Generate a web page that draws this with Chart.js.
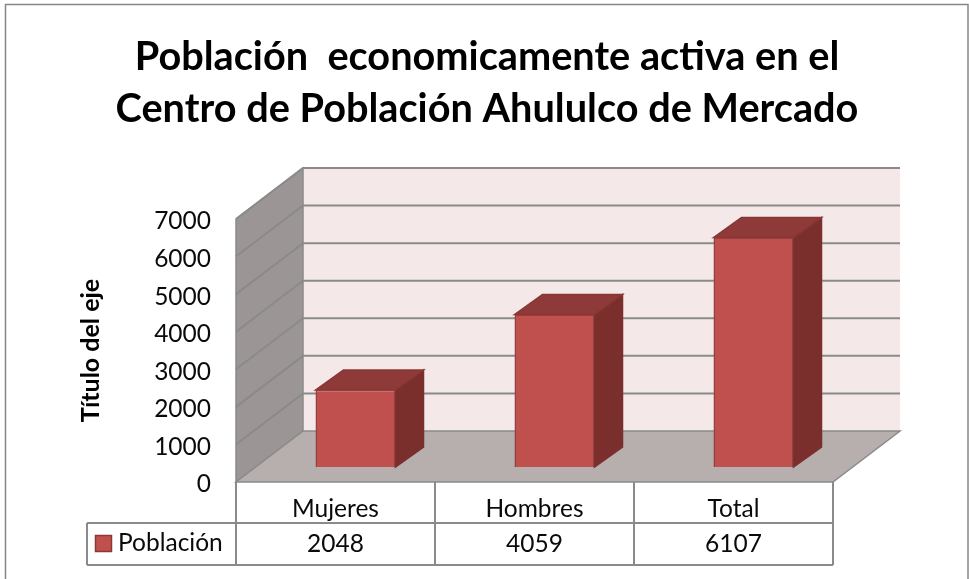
<!DOCTYPE html>
<html><head><meta charset="utf-8">
<style>html,body{margin:0;padding:0;background:#fff}canvas{display:block}</style>
<script src="https://cdn.jsdelivr.net/npm/chart.js@4"></script>
</head><body><canvas id="c" width="969" height="579"></canvas>
<script>
const categories = ["Mujeres","Hombres","Total"];
const poblacion = [2048,4059,6107];
const seriesName = "Población";
const titleLines = ["Población  economicamente activa en el","Centro de Población Ahululco de Mercado"];
const yTitle = "Título del eje";
const FONT = "Lato, Carlito, sans-serif";
const LINE = "#8a8a8a";
const wallD = {x:67,y:-51}, barShift = {x:20,y:-15}, barD = {x:28,y:-20};

function poly(ctx, pts, fill, stroke){
  ctx.beginPath(); pts.forEach((p,i)=> i?ctx.lineTo(p[0],p[1]):ctx.moveTo(p[0],p[1])); ctx.closePath();
  if(fill){ctx.fillStyle=fill;ctx.fill();}
  if(stroke){ctx.strokeStyle=stroke;ctx.lineWidth=1.5;ctx.stroke();}
}
const scene = {
  id:"scene",
  beforeDatasetsDraw(chart){
    const {ctx, scales:{x,y}} = chart;
    const l=x.left, r=x.right, b=y.getPixelForValue(0), t=y.getPixelForValue(7000);
    ctx.save();
    poly(ctx,[[l+wallD.x,t+wallD.y],[r+wallD.x,t+wallD.y],[r+wallD.x,b+wallD.y],[l+wallD.x,b+wallD.y]],"#f4e8e8");
    poly(ctx,[[l,t],[l+wallD.x,t+wallD.y],[l+wallD.x,b+wallD.y],[l,b]],"#9b9695",LINE);
    poly(ctx,[[l,b],[l+wallD.x,b+wallD.y],[r+wallD.x,b+wallD.y],[r,b]],"#b7aeae",LINE);
    ctx.strokeStyle=LINE; ctx.lineWidth=2;
    y.ticks.forEach(tk=>{
      if(tk.value===0) return;
      const py=y.getPixelForValue(tk.value);
      ctx.beginPath(); ctx.moveTo(l,py); ctx.lineTo(l+wallD.x,py+wallD.y); ctx.lineTo(r+wallD.x,py+wallD.y); ctx.stroke();
    });
    ctx.restore();
  },
  beforeDatasetDraw(chart,args){
    const ctx=chart.ctx, meta=args.meta;
    ctx.save(); ctx.translate(barShift.x,barShift.y);
    meta.data.forEach(el=>{
      const p=el.getProps(["x","y","base","width"],true);
      const L=p.x-p.width/2,R=p.x+p.width/2,T=p.y,B=p.base;
      poly(ctx,[[R,T],[R+barD.x,T+barD.y],[R+barD.x,B+barD.y],[R,B]],"#7b2f2d","#7b2f2d");
      poly(ctx,[[L,T],[L+barD.x,T+barD.y],[R+barD.x,T+barD.y],[R,T]],"#8e3a38","#8a3634");
    });
  },
  afterDatasetDraw(chart){ chart.ctx.restore(); },
  afterDraw(chart){
    const {ctx, scales:{x,y}} = chart;
    const l=x.left, r=x.right, b=y.getPixelForValue(0);
    const r1=523, r2=565, legL=87;
    ctx.save();
    ctx.strokeStyle=LINE; ctx.lineWidth=2;
    ctx.beginPath();
    ctx.moveTo(legL,r1); ctx.lineTo(r,r1);
    ctx.moveTo(legL,r2); ctx.lineTo(r,r2);
    ctx.moveTo(legL,r1); ctx.lineTo(legL,r2);
    ctx.moveTo(l,b); ctx.lineTo(l,r2);
    const w=(r-l)/categories.length;
    categories.forEach((c,i)=>{ctx.moveTo(l+w*(i+1),b);ctx.lineTo(l+w*(i+1),r2);});
    ctx.stroke();
    ctx.fillStyle="#0a0a0a"; ctx.font="24.5px "+FONT; ctx.textAlign="center"; ctx.textBaseline="middle";
    poblacion.forEach((v,i)=>ctx.fillText(String(v),x.getPixelForTick(i),544));
    ctx.textAlign="left"; ctx.fillText(seriesName,118,543);
    ctx.fillStyle="#c0504d"; ctx.strokeStyle="#8c3836"; ctx.lineWidth=1.5;
    ctx.fillRect(95.5,535.5,16,16); ctx.strokeRect(95.5,535.5,16,16);
    ctx.strokeStyle="#868686"; ctx.lineWidth=1.5;
    ctx.strokeRect(5.5,4.5,962.5,700);
    ctx.restore();
  }
};
new Chart(document.getElementById("c"),{
  type:"bar",
  data:{labels:categories,datasets:[{label:seriesName,data:poblacion,backgroundColor:"#c0504d",borderColor:"#943f3c",borderWidth:1.5,barPercentage:0.402,categoryPercentage:1,clip:false}]},
  plugins:[scene],
  options:{
    responsive:false,animation:false,
    layout:{padding:{left:5,right:0,top:0,bottom:0}},
    plugins:{
      legend:{display:false},tooltip:{enabled:false},
      title:{display:true,text:titleLines,color:"#000",align:"center",
        font:{family:FONT,size:39.7,weight:"bold",lineHeight:52/39.7},
        padding:{top:31,bottom:84}}
    },
    scales:{
      x:{grid:{display:false,drawTicks:false},border:{display:false},
        ticks:{color:"#0a0a0a",font:{family:FONT,size:24.5},padding:12,maxRotation:0},
        afterFit(s){s.height=97;}},
      y:{min:0,max:7000,grid:{display:false,drawTicks:false},border:{display:false},
        ticks:{stepSize:1000,color:"#0a0a0a",font:{family:FONT,size:24.5},padding:25,callback:v=>String(v)},
        title:{display:true,text:yTitle,color:"#000",font:{family:FONT,size:25,weight:"bold"},padding:{top:71,bottom:0}},
        afterFit(s){
          s.width=231;
          if(!s._shifted){ s._shifted=true; const d=s.drawLabels.bind(s);
            s.drawLabels=function(a){const c=s.ctx;c.save();c.translate(0,2.5);d(a);c.restore();}; }
        }},
      spacer:{type:"linear",position:"right",display:true,grid:{display:false,drawTicks:false},border:{display:false},
        ticks:{display:false},afterFit(s){s.width=136;}}
    }
  }
});
</script></body></html>
